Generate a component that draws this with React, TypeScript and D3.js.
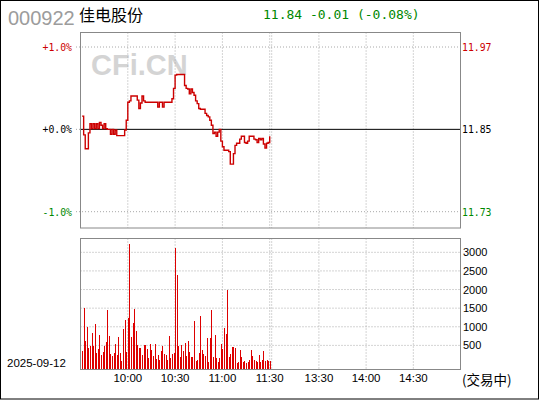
import * as d3 from "d3";

const prevClose = 11.85;
const lastPrice = 11.84;

// minute-by-minute price, 9:31 .. 11:30
const prices = [
  11.869, 11.842, 11.822, 11.822, 11.845, 11.858, 11.851, 11.858, 11.851, 11.858,
  11.851, 11.86, 11.856, 11.851, 11.858, 11.851, 11.85, 11.85, 11.843, 11.85,
  11.843, 11.849, 11.841, 11.841, 11.841, 11.841, 11.841, 11.849, 11.863, 11.889,
  11.891, 11.898, 11.898, 11.898, 11.898, 11.892, 11.88, 11.888, 11.898, 11.891,
  11.889, 11.889, 11.889, 11.889, 11.889, 11.889, 11.889, 11.889, 11.882, 11.889,
  11.889, 11.882, 11.889, 11.889, 11.889, 11.889, 11.889, 11.894, 11.909, 11.928,
  11.929, 11.929, 11.929, 11.929, 11.929, 11.913, 11.909, 11.908, 11.901, 11.908,
  11.903, 11.899, 11.891, 11.887, 11.88, 11.879, 11.879, 11.879, 11.873, 11.87,
  11.868, 11.863, 11.856, 11.844, 11.846, 11.84, 11.846, 11.85, 11.833, 11.825,
  11.82, 11.82, 11.82, 11.818, 11.8, 11.8, 11.815, 11.827, 11.83, 11.83,
  11.836, 11.84, 11.84, 11.831, 11.83, 11.833, 11.84, 11.84, 11.84, 11.836,
  11.835, 11.831, 11.837, 11.835, 11.837, 11.829, 11.823, 11.83, 11.831, 11.84,
];

// minute volume (lots)
const volumes = [
  350, 1510, 615, 990, 430, 480, 830, 480, 1070, 290,
  400, 775, 240, 320, 480, 590, 1450, 750, 265, 210,
  290, 530, 240, 720, 290, 75, 935, 1180, 320, 1235,
  3220, 720, 1100, 1475, 885, 505, 430, 430, 240, 505,
  505, 400, 160, 530, 375, 210, 530, 130, 240, 105,
  345, 480, 265, 240, 105, 750, 160, 265, 290, 3115,
  2390, 480, 185, 505, 345, 560, 210, 615, 320, 185,
  185, 1150, 75, 105, 290, 1285, 375, 265, 210, 695,
  50, 695, 1450, 185, 775, 160, 50, 160, 530, 400,
  965, 800, 1985, 185, 265, 450, 450, 430, 25, 50,
  375, 185, 50, 75, 25, 50, 105, 375, 210, 105,
  75, 50, 240, 50, 105, 345, 75, 105, 75, 75,
];

const pctTicks = [1, 0, -1];
const volTicks = [500, 1000, 1500, 2000, 2500, 3000];
const amGrid = [30, 60, 90, 120];
const pmGrid = [120, 150, 180, 210];
const amLabels = ["10:00", "10:30", "11:00", "11:30"];
const pmLabels = ["", "13:30", "14:00", "14:30"];

const W = 540;
const H = 400;
const left = 80.5;
const right = 460.5;
const priceTop = 32.5;
const priceBottom = 228;
const volTop = 238.5;
const volBottom = 369.5;

const RED = "#cc0000";
const GREEN = "#008800";
const GRID = "#a8a8a8";
const FRAME = "#888888";

export default function App() {
  const xAm = d3.scaleLinear().domain([0, 120]).range([left, 269.7]);
  const xPm = d3.scaleLinear().domain([120, 240]).range([271.7, right]);

  const yPrice = d3
    .scaleLinear()
    .domain([prevClose * 0.99, prevClose * 1.01])
    .range([211.7, 47]);
  const yVol = d3.scaleLinear().domain([0, 3000]).range([364, 252.3]);

  const line = d3
    .line<number>()
    .x((_, i) => xAm(i + 1))
    .y((d) => yPrice(d))
    .curve(d3.curveStepAfter);

  const chg = lastPrice - prevClose;
  const chgPct = (chg / prevClose) * 100;
  const headColor = chg >= 0 ? RED : GREEN;
  const fmtSigned = (v: number, n: number) => (v >= 0 ? "+" : "-") + Math.abs(v).toFixed(n);

  const vLines = [...amGrid.map((m) => xAm(m)), ...pmGrid.map((m) => xPm(m))];

  return (
    <svg
      width={W}
      height={H}
      style={{ position: "absolute", left: 0, top: 0, background: "#fff" }}
    >
      <rect x={0.5} y={0.5} width={W - 2} height={H - 1.5} fill="#fff" stroke="#000" />

      {/* header */}
      <text x={8} y={25} fontFamily="Liberation Sans" fontSize={20} fill="#9c9c9c">
        000922
      </text>
      <text x={79} y={21} fontFamily="Noto Sans CJK SC" fontSize={16} fill="#000">
        佳电股份
      </text>
      <text x={263} y={19} fontFamily="DejaVu Sans Mono" fontSize={13} fill={headColor}>
        {`${lastPrice.toFixed(2)} ${chg >= 0 ? "+" : "-"}${Math.abs(chg).toFixed(2)} (${fmtSigned(chgPct, 2)}%)`}
      </text>

      {/* watermark */}
      <text
        x={91}
        y={75}
        fontFamily="Liberation Sans"
        fontWeight="bold"
        fontSize={29}
        fill="#d4d4d4"
      >
        CFi.CN
      </text>

      {/* price panel grid */}
      {vLines.map((x, i) => (
        <line
          key={"pv" + i}
          x1={x}
          x2={x}
          y1={priceTop}
          y2={priceBottom}
          stroke={GRID}
          strokeDasharray="1,2"
        />
      ))}
      {pctTicks.map((p) => {
        const y = yPrice(prevClose * (1 + p / 100));
        const col = p > 0 ? RED : p < 0 ? GREEN : "#000";
        return (
          <g key={"pt" + p}>
            {p !== 0 ? (
              <line x1={76} x2={right} y1={y} y2={y} stroke={GRID} strokeDasharray="1,2" />
            ) : (
              <>
                <line x1={76} x2={left} y1={y} y2={y} stroke={GRID} strokeDasharray="1,2" />
                <line x1={left} x2={right} y1={y} y2={y} stroke="#000" />
              </>
            )}
            <text
              x={72}
              y={y + 4}
              textAnchor="end"
              fontFamily="DejaVu Sans Mono"
              fontSize={9.8}
              fill={col}
            >
              {(p >= 0 ? "+" : "-") + Math.abs(p).toFixed(1) + "%"}
            </text>
            <text x={462} y={y + 4} fontFamily="DejaVu Sans Mono" fontSize={9.8} fill={col}>
              {(prevClose * (1 + p / 100)).toFixed(2)}
            </text>
          </g>
        );
      })}

      <path d={line(prices) || ""} fill="none" stroke={RED} strokeWidth={1.4} />

      <rect
        x={left}
        y={priceTop}
        width={right - left}
        height={priceBottom - priceTop}
        fill="none"
        stroke={FRAME}
      />

      {/* volume panel grid */}
      {vLines.map((x, i) => (
        <line
          key={"vv" + i}
          x1={x}
          x2={x}
          y1={volTop}
          y2={volBottom}
          stroke={GRID}
          strokeDasharray="1,2"
        />
      ))}
      {volTicks.map((v) => (
        <g key={"vt" + v}>
          <line
            x1={left}
            x2={right}
            y1={yVol(v)}
            y2={yVol(v)}
            stroke={GRID}
            strokeDasharray="1,2"
          />
          <text x={463} y={yVol(v) + 4} fontFamily="Liberation Sans" fontSize={11} fill="#000">
            {v}
          </text>
        </g>
      ))}

      {volumes.map((v, i) => {
        const x = Math.round(xAm(i + 1));
        const y = yVol(v);
        return (
          <rect
            key={"b" + i}
            x={x}
            y={y}
            width={1}
            height={volBottom - y}
            fill="#dd0000"
            shapeRendering="crispEdges"
          />
        );
      })}

      <rect
        x={left}
        y={volTop}
        width={right - left}
        height={volBottom - volTop}
        fill="none"
        stroke={FRAME}
      />

      {/* bottom labels */}
      <text x={7} y={367} fontFamily="Liberation Sans" fontSize={11.5} fill="#000">
        2025-09-12
      </text>
      {amGrid.map((m, i) => (
        <text
          key={"al" + i}
          x={xAm(m)}
          y={382}
          textAnchor="middle"
          fontFamily="Liberation Sans"
          fontSize={11.5}
          fill="#000"
        >
          {amLabels[i]}
        </text>
      ))}
      {pmGrid.map((m, i) => (
        <text
          key={"pl" + i}
          x={xPm(m)}
          y={382}
          textAnchor="middle"
          fontFamily="Liberation Sans"
          fontSize={11.5}
          fill="#000"
        >
          {pmLabels[i]}
        </text>
      ))}
      <text x={462} y={385} fontFamily="Noto Sans CJK SC" fontSize={13.5} fill="#000">
        (交易中)
      </text>
    </svg>
  );
}
